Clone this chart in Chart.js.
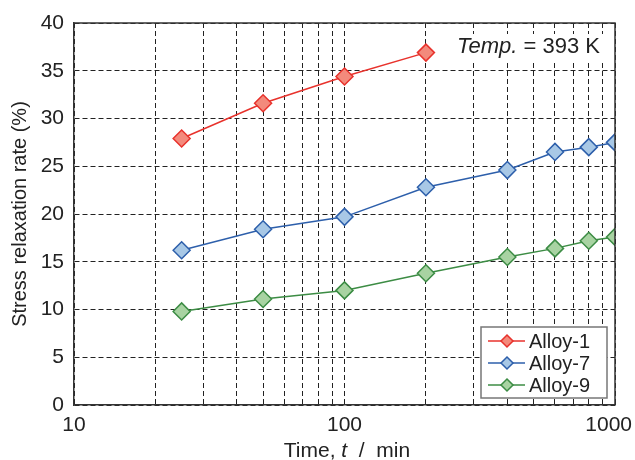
<!DOCTYPE html>
<html>
<head>
<meta charset="utf-8">
<script src="https://cdn.jsdelivr.net/npm/chart.js@4"></script>
<style>
  html, body { margin: 0; padding: 0; background: #fff; }
  #wrap { width: 635px; height: 460px; }
</style>
</head>
<body>
<div id="wrap"><canvas id="chart-relax" width="635" height="460"></canvas></div>
<script>
// Stress relaxation rate vs time, log x axis

const timesAlloy1 = [25, 50, 100, 200];
const rateAlloy1 = [27.9, 31.6, 34.4, 36.9];
const timesAlloy7 = [25, 50, 100, 200, 400, 600, 800, 1000];
const rateAlloy7 = [16.2, 18.4, 19.7, 22.8, 24.6, 26.5, 27.0, 27.5];
const timesAlloy9 = [25, 50, 100, 200, 400, 600, 800, 1000];
const rateAlloy9 = [9.8, 11.1, 12.0, 13.8, 15.5, 16.4, 17.2, 17.6];

const xTickValues = [10, 20, 30, 40, 50, 60, 70, 80, 90, 100, 200, 300, 400, 500, 600, 700, 800, 900, 1000];
const xTickLabels = [10, 100];   // 1000 is drawn by the plugin, pulled in from the edge
const yTickMin = 0, yTickMax = 40, yTickStep = 5;

const FONT = "'Liberation Sans', Arial, sans-serif";
const INK = '#222';

const pts = (xs, ys) => xs.map((x, i) => ({ x: x, y: ys[i] }));

function series(label, xs, ys, line, fill) {
    return {
        label: label,
        data: pts(xs, ys),
        showLine: true,
        borderColor: line,
        borderWidth: 1.5,
        pointStyle: 'rectRot',
        pointRadius: 8.5,
        pointBackgroundColor: fill,
        pointBorderColor: line,
        pointBorderWidth: 1.5,
        tension: 0
    };
}

// frame, annotation, legend and x title
const extras = {
    id: 'extras',
    afterDatasetsDraw(chart) {
        const ctx = chart.ctx;
        const a = chart.chartArea;
        ctx.save();

        // top and right frame
        ctx.strokeStyle = '#333';
        ctx.lineWidth = 1.5;
        ctx.beginPath();
        ctx.moveTo(a.left, a.top);
        ctx.lineTo(a.right, a.top);
        ctx.lineTo(a.right, a.bottom);
        ctx.stroke();

        // last x label, kept inside the canvas
        ctx.fillStyle = INK;
        ctx.font = '21px ' + FONT;
        ctx.textAlign = 'right';
        ctx.textBaseline = 'middle';
        ctx.fillText('1000', chart.scales.x.getPixelForValue(1000) + 17, 425);
        ctx.textAlign = 'left';

        // Temp. = 393 K
        ctx.font = 'italic 22px ' + FONT;
        const w1 = ctx.measureText('Temp.').width;
        ctx.font = '22px ' + FONT;
        const w2 = ctx.measureText(' = 393 K').width;
        const tx = a.right - 15 - w1 - w2, ty = 47;
        ctx.fillStyle = '#fff';
        ctx.fillRect(tx - 4, ty - 13, w1 + w2 + 8, 26);
        ctx.fillStyle = INK;
        ctx.font = 'italic 22px ' + FONT;
        ctx.fillText('Temp.', tx, ty);
        ctx.font = '22px ' + FONT;
        ctx.fillText(' = 393 K', tx + w1, ty);

        // legend box
        const bx = 481, by = 327, bw = 126, bh = 71;
        ctx.fillStyle = '#fff';
        ctx.fillRect(bx, by, bw, bh);
        ctx.strokeStyle = '#777';
        ctx.lineWidth = 1.5;
        ctx.strokeRect(bx, by, bw, bh);
        chart.data.datasets.forEach((ds, i) => {
            const ry = 341 + i * 22;
            ctx.strokeStyle = ds.borderColor;
            ctx.lineWidth = 1.5;
            ctx.beginPath();
            ctx.moveTo(488, ry);
            ctx.lineTo(525, ry);
            ctx.stroke();
            const r = 6;
            ctx.beginPath();
            ctx.moveTo(507, ry - r);
            ctx.lineTo(507 + r, ry);
            ctx.lineTo(507, ry + r);
            ctx.lineTo(507 - r, ry);
            ctx.closePath();
            ctx.fillStyle = ds.pointBackgroundColor;
            ctx.fill();
            ctx.stroke();
            ctx.fillStyle = INK;
            ctx.font = '20px ' + FONT;
            ctx.fillText(ds.label, 529, ry + 1);
        });

        // x axis title with italic t
        const parts = [['Time, ', ''], ['t', 'italic '], ['  /  min', '']];
        let total = 0;
        parts.forEach(p => { ctx.font = p[1] + '21px ' + FONT; total += ctx.measureText(p[0]).width; });
        let x = 347 - total / 2;
        ctx.fillStyle = INK;
        parts.forEach(p => {
            ctx.font = p[1] + '21px ' + FONT;
            ctx.fillText(p[0], x, 451);
            x += ctx.measureText(p[0]).width;
        });
        ctx.restore();
    }
};

new Chart(document.getElementById('chart-relax'), {
    type: 'scatter',
    data: {
        datasets: [
            series('Alloy-1', timesAlloy1, rateAlloy1, '#e8322c', '#f38a7c'),
            series('Alloy-7', timesAlloy7, rateAlloy7, '#2d5fab', '#a8c8e6'),
            series('Alloy-9', timesAlloy9, rateAlloy9, '#3c8c44', '#a8d3a2')
        ]
    },
    options: {
        responsive: false,
        animation: false,
        layout: { padding: { left: 0, top: 23, right: 20, bottom: 0 } },
        plugins: {
            legend: { display: false },
            tooltip: { enabled: false }
        },
        scales: {
            x: {
                type: 'logarithmic',
                min: 10,
                max: 1000,
                afterBuildTicks: s => { s.ticks = xTickValues.map(v => ({ value: v })); },
                afterFit: s => { s.height = 55; s.paddingRight = 0; s.paddingLeft = 0; },
                ticks: {
                    autoSkip: false,
                    maxRotation: 0,
                    padding: 8,
                    color: INK,
                    font: { family: FONT, size: 21 },
                    callback: v => xTickLabels.includes(v) ? String(v) : ''
                },
                grid: { color: '#222', lineWidth: 1, drawTicks: false },
                border: { color: '#333', width: 1.5, dash: [5, 3] }
            },
            y: {
                min: yTickMin,
                max: yTickMax,
                afterFit: s => { s.width = 74; },
                ticks: {
                    stepSize: yTickStep,
                    padding: 10,
                    color: INK,
                    font: { family: FONT, size: 21 }
                },
                title: {
                    display: true,
                    text: 'Stress relaxation rate (%)',
                    color: INK,
                    font: { family: FONT, size: 20 },
                    padding: { top: 8, bottom: 0 }
                },
                grid: { color: '#222', lineWidth: 1, drawTicks: false },
                border: { color: '#333', width: 1.5, dash: [5, 3] }
            }
        }
    },
    plugins: [extras]
});
</script>
</body>
</html>
